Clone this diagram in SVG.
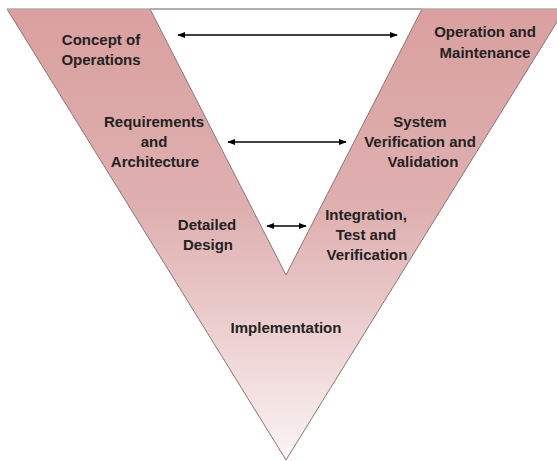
<svg xmlns="http://www.w3.org/2000/svg" width="557" height="461" viewBox="0 0 557 461">
  <defs>
    <linearGradient id="vgrad" gradientUnits="userSpaceOnUse" x1="0" y1="9" x2="0" y2="460">
      <stop offset="0" stop-color="#d9a09f"/>
      <stop offset="0.45" stop-color="#dfb0b0"/>
      <stop offset="0.75" stop-color="#eed4d4"/>
      <stop offset="1" stop-color="#fbf4f4"/>
    </linearGradient>
    <marker id="ah" viewBox="0 0 10 10" refX="9" refY="5" markerWidth="8" markerHeight="8" markerUnits="userSpaceOnUse" orient="auto-start-reverse">
      <path d="M0,1 L10,5 L0,9 Z" fill="#000"/>
    </marker>
    <style>
      .lbl { font-family: "Liberation Sans", Arial, sans-serif; font-weight: bold; font-size: 15px; fill: #222; text-anchor: middle; }
      .conn { stroke: #000; stroke-width: 1.6; fill: none; marker-start: url(#ah); marker-end: url(#ah); }
      .edge { stroke: #8a7676; stroke-width: 1; }
    </style>
  </defs>
  <rect width="557" height="461" fill="#ffffff"/>
  <g id="vshape">
    <path d="M7,9 L565,9 L286,460 Z M150,9 L286,275 L422,9 Z" fill="url(#vgrad)" fill-rule="evenodd" class="edge"/>
    <line x1="7" y1="9" x2="557" y2="9" stroke="#c8c0c0" stroke-width="1"/>
  </g>
  <g id="connectors">
    <line class="conn" x1="178" y1="35" x2="397" y2="35"/>
    <line class="conn" x1="228" y1="142" x2="346" y2="142"/>
    <line class="conn" x1="267" y1="226" x2="306" y2="226"/>
  </g>
  <g id="concept-of-operations">
    <text class="lbl" x="101" y="45">Concept of</text>
    <text class="lbl" x="101" y="65">Operations</text>
  </g>
  <g id="requirements-and-architecture">
    <text class="lbl" x="154" y="127">Requirements</text>
    <text class="lbl" x="154" y="147">and</text>
    <text class="lbl" x="155" y="167">Architecture</text>
  </g>
  <g id="detailed-design">
    <text class="lbl" x="207" y="230">Detailed</text>
    <text class="lbl" x="208" y="250">Design</text>
  </g>
  <g id="implementation">
    <text class="lbl" x="286" y="333">Implementation</text>
  </g>
  <g id="integration-test-verification">
    <text class="lbl" x="366" y="220">Integration,</text>
    <text class="lbl" x="366" y="240">Test and</text>
    <text class="lbl" x="367" y="260">Verification</text>
  </g>
  <g id="system-verification-validation">
    <text class="lbl" x="420" y="127">System</text>
    <text class="lbl" x="420" y="147">Verification and</text>
    <text class="lbl" x="423" y="167">Validation</text>
  </g>
  <g id="operation-and-maintenance">
    <text class="lbl" x="485" y="37">Operation and</text>
    <text class="lbl" x="485" y="58">Maintenance</text>
  </g>
</svg>
